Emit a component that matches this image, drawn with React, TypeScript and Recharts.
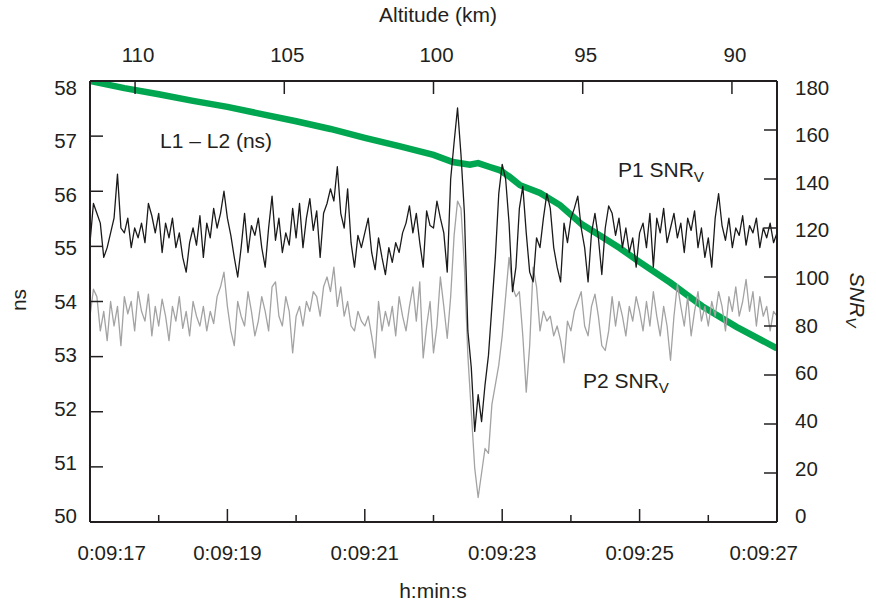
import React from 'react';
import { LineChart, Line, XAxis, YAxis } from 'recharts';

// ---- tick labels / axis values ----
const TIME_TICKS = [17, 18, 19, 20, 21, 22, 23, 24, 25, 26, 27];
const ALT_TICKS = [110, 105, 100, 95, 90];
const ALT_DOMAIN = [88.49, 111.51];
const NS_TICKS = [50, 51, 52, 53, 54, 55, 56, 57, 58];
const SNR_TICKS = [0, 20, 40, 60, 80, 100, 120, 140, 160, 180];

// ---- sampling of the SNR series (s) ----
const T0 = 17;
const DT = 0.05;

// P1 SNR_V (black), right axis
const p1Values = [
  114, 130, 126, 122, 108, 112, 118, 124, 142, 120,
  118, 124, 112, 120, 116, 122, 114, 130, 125, 118,
  126, 110, 122, 116, 124, 112, 118, 108, 102, 114,
  120, 113, 125, 108, 122, 116, 128, 120, 126, 135,
  124, 117, 108, 100, 112, 126, 110, 121, 117, 124,
  112, 104, 120, 133, 115, 124, 110, 118, 113, 128,
  116, 130, 112, 124, 132, 119, 127, 108, 126, 130,
  136, 131, 145, 126, 120, 136, 114, 104, 117, 112,
  118, 124, 110, 103, 116, 108, 101, 112, 106, 114,
  110, 118, 122, 129, 118, 126, 114, 104, 127, 121,
  120, 131, 124, 118, 102, 140, 155, 169, 150, 126,
  78, 63, 37, 52, 41, 56, 68, 88, 108, 134,
  146, 140, 122, 94, 104, 128, 137, 118, 102, 98,
  116, 112, 124, 134, 128, 112, 104, 98, 122, 114,
  124, 128, 133, 120, 112, 98, 118, 126, 116, 101,
  120, 129, 126, 117, 124, 112, 120, 110, 116, 104,
  118, 122, 112, 126, 104, 124, 118, 128, 114, 120,
  126, 116, 122, 110, 124, 119, 127, 112, 120, 108,
  116, 104, 124, 134, 121, 115, 124, 112, 120, 117,
  125, 113, 121, 118, 124, 112, 120, 116, 122, 114,
  118,
];

// P2 SNR_V (grey), right axis
const p2Values = [
  84, 95, 92, 78, 86, 74, 90, 80, 88, 72,
  92, 85, 90, 78, 94, 86, 82, 93, 76, 88,
  80, 91, 84, 74, 88, 82, 92, 79, 86, 76,
  90, 84, 80, 88, 78, 86, 81, 92, 96, 102,
  88, 78, 72, 90, 84, 80, 94, 86, 76, 82,
  92, 86, 78, 96, 98, 84, 80, 92, 86, 69,
  84, 88, 80, 90, 86, 94, 92, 84, 96, 100,
  94, 104, 88, 96, 84, 90, 80, 78, 86, 82,
  80, 84, 76, 67, 90, 78, 86, 80, 88, 76,
  92, 84, 78, 88, 96, 82, 98, 67, 80, 90,
  69, 80, 100, 88, 75, 92, 117, 131, 128, 104,
  68, 45, 22, 10, 20, 30, 28, 48, 56, 64,
  76, 92, 108, 96, 92, 94, 76, 53, 72, 104,
  96, 78, 86, 82, 84, 76, 80, 74, 65, 82,
  78, 86, 90, 94, 80, 76, 88, 93, 84, 72,
  70, 78, 92, 80, 90, 84, 76, 88, 82, 92,
  86, 78, 90, 80, 94, 84, 76, 88, 80, 66,
  84, 97, 88, 80, 92, 76, 86, 94, 82, 88,
  80, 90, 84, 94, 88, 78, 92, 86, 96, 84,
  90, 99, 86, 94, 80, 92, 84, 88, 78, 86,
  84,
];

// L1 - L2 (ns), left axis (green)
const l1l2Times = [
  17.0, 17.5, 18.0, 18.5, 19.0, 19.5, 20.0, 20.5, 21.0, 21.5, 22.0, 22.28, 22.53,
  22.65, 22.82, 22.97, 23.11, 23.26, 23.55, 23.84, 24.16, 24.48, 24.71, 24.96, 25.45,
  25.93, 26.41, 27.0,
];
const l1l2Ns = [
  58.0, 57.87, 57.76, 57.64, 57.53, 57.4, 57.27, 57.13, 56.97, 56.82, 56.66, 56.53, 56.48,
  56.51, 56.44, 56.38, 56.26, 56.11, 55.97, 55.75, 55.4, 55.15, 54.97, 54.75, 54.34,
  53.9, 53.54, 53.15,
];

const p1Data = p1Values.map((v, i) => ({ t: T0 + i * DT, v }));
const p2Data = p2Values.map((v, i) => ({ t: T0 + i * DT, v }));
const greenData = l1l2Times.map((t, i) => ({ t, ns: l1l2Ns[i] }));

const INK = '#231f20';
const FONT = '"Liberation Sans", Arial, Helvetica, sans-serif';
const TICK_FS = 20.5;

const squeeze = (y: number) => y + (301.5 - y) * 0.028;

const LeftTick = (props: any) => {
  const { x, y, payload } = props;
  return (
    <g>
      <line x1={x} x2={x + 13} y1={y} y2={y} stroke={INK} strokeWidth={1.5} />
      <text x={x - 13} y={squeeze(y)} dy="0.36em" textAnchor="end" fill={INK} fontSize={TICK_FS} fontFamily={FONT}>
        {payload.value}
      </text>
    </g>
  );
};

const RightTick = (props: any) => {
  const { x, y, payload } = props;
  return (
    <g>
      <line x1={x} x2={x - 13} y1={y} y2={y} stroke={INK} strokeWidth={1.5} />
      <text x={x + 18} y={squeeze(y)} dy="0.36em" textAnchor="start" fill={INK} fontSize={TICK_FS} fontFamily={FONT}>
        {payload.value}
      </text>
    </g>
  );
};

const BottomTick = (props: any) => {
  const { x, y, payload } = props;
  const v = payload.value as number;
  const major = (v - 17) % 2 === 0;
  let anchor: 'start' | 'middle' | 'end' = 'middle';
  let tx = x;
  if (v === 17) { anchor = 'start'; tx = x - 12.5; }
  if (v === 27) { anchor = 'end'; tx = x + 21; }
  return (
    <g>
      <line x1={x} x2={x} y1={y} y2={y - (major ? 13 : 7)} stroke={INK} strokeWidth={1.5} />
      {major && (
        <text x={tx} y={y + 31} dy="0.36em" textAnchor={anchor} fill={INK} fontSize={TICK_FS} fontFamily={FONT}>
          {`0:09:${v}`}
        </text>
      )}
    </g>
  );
};

const TopTick = (props: any) => {
  const { x, y, payload } = props;
  return (
    <g>
      <line x1={x} x2={x} y1={y} y2={y + 13} stroke={INK} strokeWidth={1.5} />
      <text x={x + 3} y={y - 26} dy="0.36em" textAnchor="middle" fill={INK} fontSize={TICK_FS} fontFamily={FONT}>
        {payload.value}
      </text>
    </g>
  );
};

const textStyle: React.CSSProperties = {
  position: 'absolute',
  fontFamily: FONT,
  fontSize: 21,
  lineHeight: 1,
  color: INK,
  whiteSpace: 'nowrap',
};

const Sub = ({ children }: { children: React.ReactNode }) => (
  <span style={{ fontSize: '0.72em', verticalAlign: '-0.3em' }}>{children}</span>
);

export default function App() {
  const axisLine = { stroke: INK, strokeWidth: 2 };
  return (
    <div style={{ position: 'absolute', left: 0, top: 0, width: 876, height: 603, background: '#fff' }}>
      <LineChart width={876} height={603} margin={{ top: 41, right: 39, bottom: 41, left: 30 }}>
        <XAxis
          xAxisId="time"
          dataKey="t"
          type="number"
          domain={[17, 27]}
          ticks={TIME_TICKS}
          interval={0}
          allowDataOverflow
          orientation="bottom"
          height={40}
          axisLine={axisLine}
          tickLine={false}
          tickSize={0}
          tickMargin={0}
          tick={<BottomTick />}
        />
        <XAxis
          xAxisId="alt"
          dataKey="alt"
          type="number"
          domain={ALT_DOMAIN}
          reversed
          ticks={ALT_TICKS}
          interval={0}
          allowDataOverflow
          orientation="top"
          height={40}
          axisLine={axisLine}
          tickLine={false}
          tickSize={0}
          tickMargin={0}
          tick={<TopTick />}
        />
        <YAxis
          yAxisId="ns"
          type="number"
          domain={[50, 58]}
          ticks={NS_TICKS}
          interval={0}
          allowDataOverflow
          orientation="left"
          width={60}
          axisLine={axisLine}
          tickLine={false}
          tickSize={0}
          tickMargin={0}
          tick={<LeftTick />}
        />
        <YAxis
          yAxisId="snr"
          type="number"
          domain={[0, 180]}
          ticks={SNR_TICKS}
          interval={0}
          allowDataOverflow
          orientation="right"
          width={60}
          axisLine={axisLine}
          tickLine={false}
          tickSize={0}
          tickMargin={0}
          tick={<RightTick />}
        />
        <Line
          data={greenData}
          dataKey="ns"
          xAxisId="time"
          yAxisId="ns"
          stroke="#00a650"
          strokeWidth={6.5}
          dot={false}
          isAnimationActive={false}
        />
        <Line
          data={p2Data}
          dataKey="v"
          xAxisId="time"
          yAxisId="snr"
          stroke="#a3a3a3"
          strokeWidth={1.3}
          strokeLinejoin="round"
          dot={false}
          isAnimationActive={false}
        />
        <Line
          data={p1Data}
          dataKey="v"
          xAxisId="time"
          yAxisId="snr"
          stroke="#1a1a1a"
          strokeWidth={1.3}
          strokeLinejoin="round"
          dot={false}
          isAnimationActive={false}
        />
      </LineChart>

      <div style={{ ...textStyle, left: 438, top: 4, transform: 'translateX(-50%)' }}>Altitude (km)</div>
      <div style={{ ...textStyle, left: 433, top: 580, transform: 'translateX(-50%)' }}>h:min:s</div>
      <div style={{ ...textStyle, left: 18, top: 300, transform: 'translate(-50%, -50%) rotate(-90deg)' }}>ns</div>
      <div
        style={{
          ...textStyle,
          left: 856,
          top: 300,
          fontStyle: 'italic',
          transform: 'translate(-50%, -50%) rotate(90deg)',
        }}
      >
        SNR<Sub>V</Sub>
      </div>
      <div style={{ ...textStyle, left: 160, top: 130 }}>L1 – L2 (ns)</div>
      <div style={{ ...textStyle, left: 618, top: 159 }}>
        P1 SNR<Sub>V</Sub>
      </div>
      <div style={{ ...textStyle, left: 583, top: 370 }}>
        P2 SNR<Sub>V</Sub>
      </div>
    </div>
  );
}
